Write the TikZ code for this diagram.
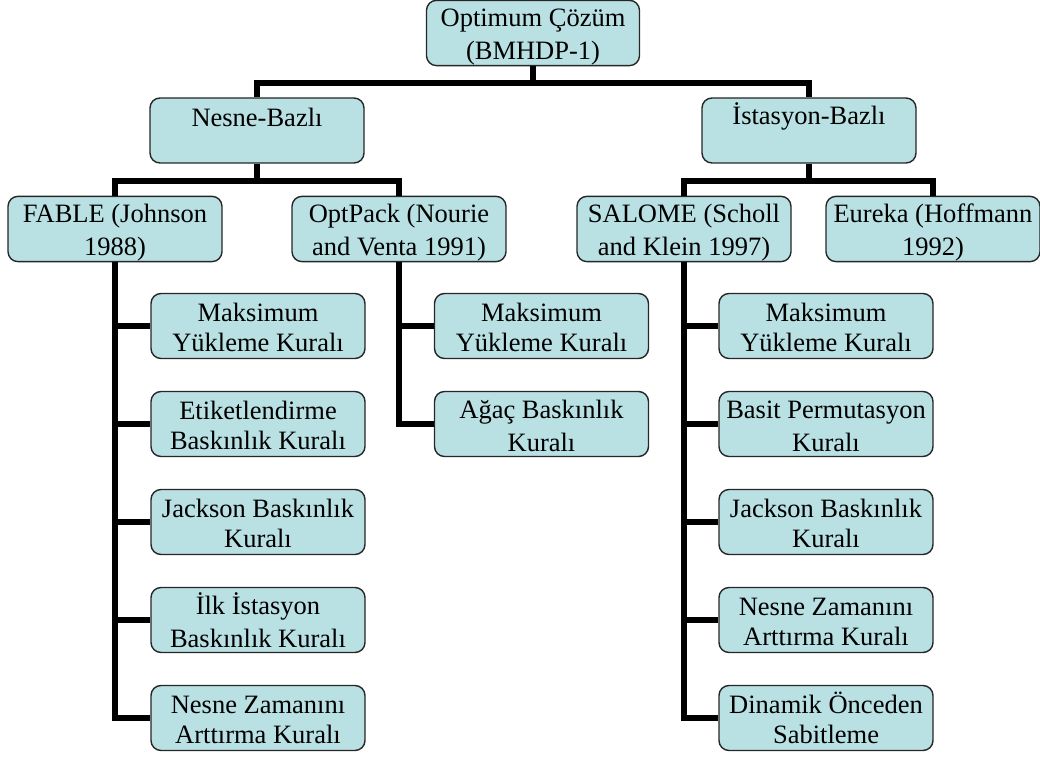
\documentclass[tikz,border=0pt]{standalone}
\usepackage{fontspec}
\setmainfont{Liberation Serif}
\definecolor{boxfill}{RGB}{185,224,227}
\newcommand{\twoln}[2]{\rule[-2pt]{0pt}{15pt}#1\\\rule[-2pt]{0pt}{15pt}#2}
\begin{document}
\begin{tikzpicture}[x=0.5pt,y=-0.5pt,
box/.style={draw=black!85,fill=boxfill,rounded corners=5pt,line width=0.7pt,minimum width=107pt,
minimum height=32.5pt,inner sep=0pt,align=center,font=\fontsize{13.25}{15}\selectfont},
link/.style={line width=3pt}]
\useasboundingbox(0,0)rectangle(1040,758);
% upper levels
\node[box,minimum width=106.5pt,minimum height=32pt](root)at(533,33){\twoln{Optimum Çözüm}{(BMHDP-1)}};
\node[box](nesne)at(257,130.5){\twoln{Nesne-Bazlı}{}};
\node[box](ist)at(809,130.5){\twoln{İstasyon-Bazlı}{}};
\node[box](fable)at(115,229){\twoln{FABLE (Johnson}{1988)}};
\node[box](optpack)at(399,229){\twoln{OptPack (Nourie}{and Venta 1991)}};
\node[box](salome)at(684,229){\twoln{SALOME (Scholl}{and Klein 1997)}};
\node[box](eureka)at(933,229){\twoln{Eureka (Hoffmann}{1992)}};
% FABLE rules
\node[box](f1)at(258,326){\twoln{Maksimum}{Yükleme Kuralı}};
\node[box](f2)at(258,424){\twoln{Etiketlendirme}{Baskınlık Kuralı}};
\node[box](f3)at(258,522){\twoln{Jackson Baskınlık}{Kuralı}};
\node[box](f4)at(258,620){\twoln{İlk İstasyon}{Baskınlık Kuralı}};
\node[box](f5)at(258,718){\twoln{Nesne Zamanını}{Arttırma Kuralı}};
% OptPack rules
\node[box](o1)at(541.5,326){\twoln{Maksimum}{Yükleme Kuralı}};
\node[box](o2)at(541.5,424){\twoln{Ağaç Baskınlık}{Kuralı}};
% SALOME rules
\node[box](s1)at(826,326){\twoln{Maksimum}{Yükleme Kuralı}};
\node[box](s2)at(826,424){\twoln{Basit Permutasyon}{Kuralı}};
\node[box](s3)at(826,522){\twoln{Jackson Baskınlık}{Kuralı}};
\node[box](s4)at(826,620){\twoln{Nesne Zamanını}{Arttırma Kuralı}};
\node[box](s5)at(826,718){\twoln{Dinamik Önceden}{Sabitleme}};
% connectors
\draw[link](root.south)--++(0,17)coordinate(bus0);
\draw[link](nesne.north)|-(bus0)-|(ist.north);
\draw[link](nesne.south)--++(0,17)coordinate(bus1);
\draw[link](fable.north)|-(bus1)-|(optpack.north);
\draw[link](ist.south)--++(0,17)coordinate(bus2);
\draw[link](salome.north)|-(bus2)-|(eureka.north);
\draw[link](fable.south)|-(f5.west);
\foreach \i in {1,...,4}\draw[link](fable.south|-f\i.west)--(f\i.west);
\draw[link](optpack.south)|-(o2.west);
\draw[link](optpack.south|-o1.west)--(o1.west);
\draw[link](salome.south)|-(s5.west);
\foreach \i in {1,...,4}\draw[link](salome.south|-s\i.west)--(s\i.west);
\end{tikzpicture}
\end{document}
